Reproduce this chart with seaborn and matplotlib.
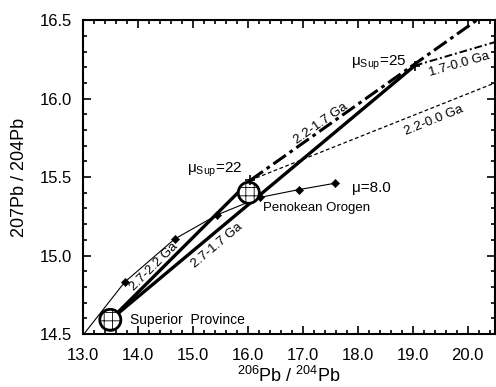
import numpy as np
import pandas as pd
import matplotlib
matplotlib.use("Agg")
import matplotlib.pyplot as plt
import seaborn as sns
from matplotlib.ticker import MultipleLocator

# datos
growth_x = [13.02, 13.76, 14.67, 15.45, 16.22, 16.93, 17.58]
growth_y = [14.50, 14.83, 15.105, 15.26, 15.37, 15.42, 15.46]

res_names = ["Superior Province", "Penokean Orogen"]
res_x = [13.50, 16.02]
res_y = [14.59, 15.40]

mu_labels = ["22", "25"]
mu_x = [16.05, 19.04]
mu_y = [15.48, 16.21]

# segmentos (x, y) de cada trayectoria
seg_2722 = ([13.50, 16.05], [14.59, 15.48])
seg_2717 = ([13.50, 19.04], [14.59, 16.21])
seg_2217 = ([16.05, 20.25], [15.48, 16.52])
seg_1700 = ([19.04, 20.50], [16.21, 16.36])
seg_2200 = ([16.05, 20.50], [15.48, 16.10])

xticks = [13.0, 14.0, 15.0, 16.0, 17.0, 18.0, 19.0, 20.0]
yticks = [14.5, 15.0, 15.5, 16.0, 16.5]

sns.set_style("ticks")
plt.rcParams['font.family'] = ['Liberation Sans', 'DejaVu Sans']
plt.rcParams['mathtext.default'] = 'regular'
plt.rcParams['hatch.linewidth'] = 0.6
plt.rcParams['text.color'] = 'black'
plt.rcParams['axes.labelcolor'] = 'black'
plt.rcParams['xtick.color'] = 'black'
plt.rcParams['ytick.color'] = 'black'

fig = plt.figure(figsize=(4.96, 3.87), dpi=100)
ax = fig.add_axes([0.167, 0.137, 0.831, 0.811])

def linea(seg, lw, ls):
    sns.lineplot(x=seg[0], y=seg[1], sort=False, estimator=None, color='black',
                 linewidth=lw, linestyle=ls, ax=ax)

linea(seg_2722, 2.4, '-')
linea(seg_2717, 2.4, '-')
linea(seg_2217, 2.2, (0, (5, 1.5, 1.2, 1.5)))
linea(seg_1700, 1.4, (0, (4, 1.5, 1, 1.5)))
linea(seg_2200, 0.9, (0, (3, 2)))

# curva de crecimiento mu=8
sns.lineplot(x=growth_x, y=growth_y, sort=False, estimator=None, color='black',
             linewidth=0.8, ax=ax)
sns.scatterplot(x=growth_x[1:], y=growth_y[1:], marker='D', s=18, color='black',
                edgecolor='black', ax=ax, zorder=5)

# reservorios
sns.scatterplot(x=res_x, y=res_y, marker='o', s=230, color='white', edgecolor='black',
                linewidth=2, hatch='++', ax=ax, zorder=6)

sns.scatterplot(x=mu_x, y=mu_y, marker='+', s=60, color='black', linewidth=1.2, ax=ax, zorder=7)

ax.text(mu_x[0] - 0.14, mu_y[0] + 0.065, 'μ$_{Sup}$=' + mu_labels[0], fontsize=11,
        ha='right', va='center')
ax.text(mu_x[1] - 0.15, mu_y[1] + 0.02, 'μ$_{Sup}$=' + mu_labels[1], fontsize=11,
        ha='right', va='center')
ax.text(17.9, 15.43, 'μ=8.0', fontsize=11, ha='left', va='center')
ax.text(13.86, 14.59, 'Superior  Province', fontsize=10, ha='left', va='center')
ax.text(16.27, 15.30, res_names[1], fontsize=9.5, ha='left', va='center')

ax.text(14.29, 14.93, '2.7-2.2 Ga', fontsize=9.5, rotation=45, ha='center', va='center', rotation_mode='anchor')
ax.text(15.44, 15.06, '2.7-1.7 Ga', fontsize=9.5, rotation=40, ha='center', va='center', rotation_mode='anchor')
ax.text(17.33, 15.84, '2.2-1.7 Ga', fontsize=9.5, rotation=35, ha='center', va='center', rotation_mode='anchor')
ax.text(19.84, 16.22, '1.7-0.0 Ga', fontsize=9.5, rotation=16, ha='center', va='center', rotation_mode='anchor')
ax.text(19.38, 15.86, '2.2-0.0 Ga', fontsize=9.5, rotation=22, ha='center', va='center', rotation_mode='anchor')

ax.set_xlim(13.0, 20.5)
ax.set_ylim(14.5, 16.5)
ax.set_xticks(xticks)
ax.set_yticks(yticks)
ax.set_xticklabels([f'{v:.1f}' for v in xticks])
ax.set_yticklabels([f'{v:.1f}' for v in yticks])
ax.xaxis.set_minor_locator(MultipleLocator(0.2))
ax.yaxis.set_minor_locator(MultipleLocator(0.1))
ax.tick_params(which='both', direction='in', top=True, right=True, width=1.2, color='black')
ax.tick_params(which='major', length=6, labelsize=12)
ax.tick_params(axis='x', which='major', pad=10)
ax.tick_params(axis='y', which='major', pad=8)
ax.tick_params(which='minor', length=3)
for s in ax.spines.values():
    s.set_linewidth(1.5)
    s.set_color('black')

ax.set_xlabel('$^{206}$Pb / $^{204}$Pb', fontsize=13, labelpad=2)
ax.set_ylabel('207Pb / 204Pb', fontsize=13, labelpad=8)

fig.savefig('out.png', dpi=100)
